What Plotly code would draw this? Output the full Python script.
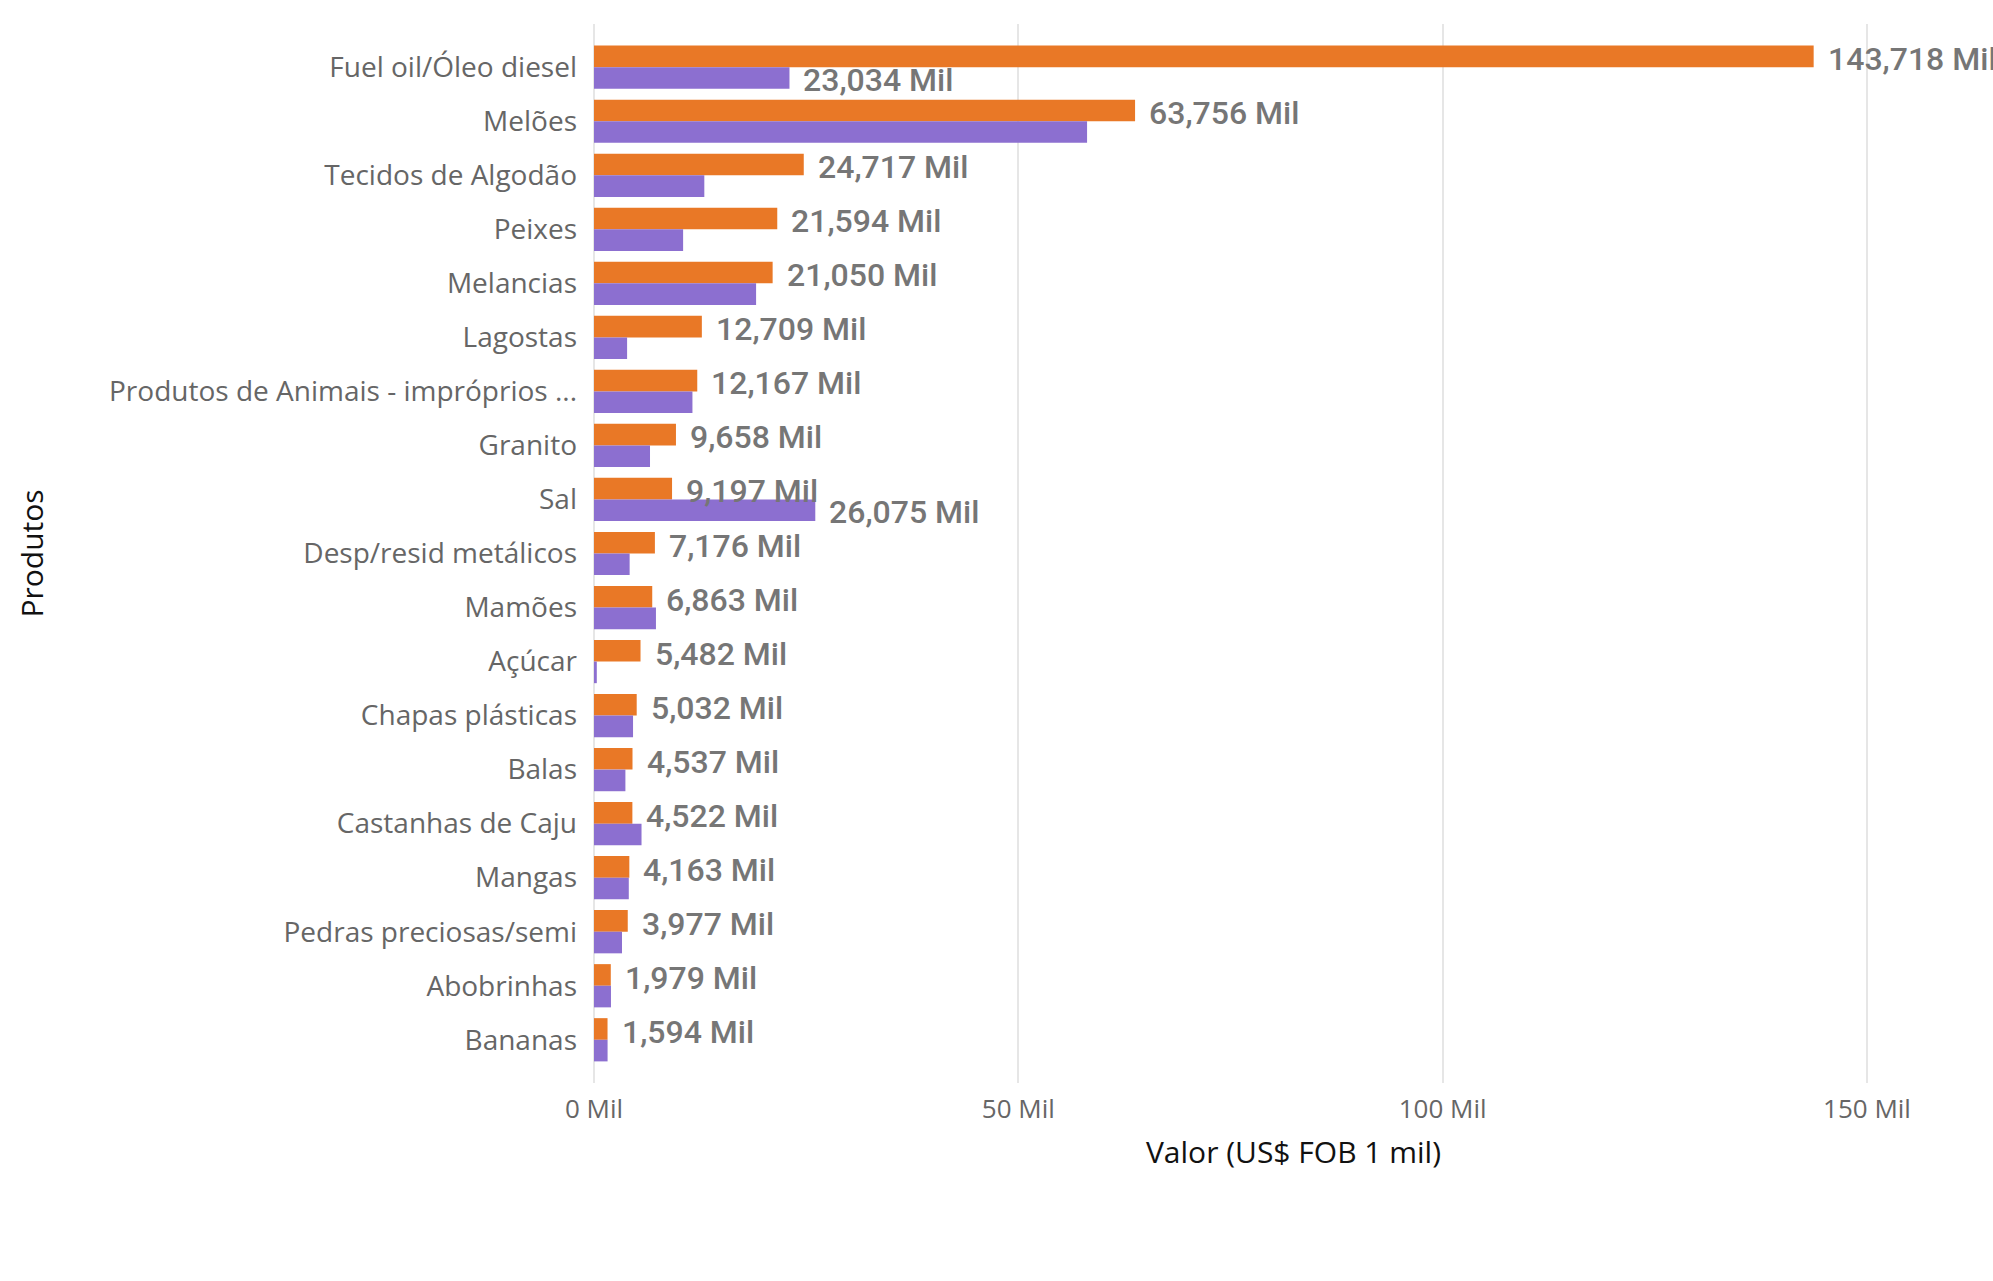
import plotly.graph_objects as go

categories = [
    "Fuel oil/Óleo diesel", "Melões", "Tecidos de Algodão", "Peixes", "Melancias",
    "Lagostas", "Produtos de Animais - impróprios ...", "Granito", "Sal",
    "Desp/resid metálicos", "Mamões", "Açúcar", "Chapas plásticas", "Balas",
    "Castanhas de Caju", "Mangas", "Pedras preciosas/semi", "Abobrinhas", "Bananas",
]
valores_laranja = [143.718, 63.756, 24.717, 21.594, 21.050, 12.709, 12.167, 9.658, 9.197,
                   7.176, 6.863, 5.482, 5.032, 4.537, 4.522, 4.163, 3.977, 1.979, 1.594]
valores_roxo = [23.034, 58.1, 13.0, 10.5, 19.1, 3.9, 11.6, 6.6, 26.075,
                4.2, 7.3, 0.33, 4.6, 3.7, 5.6, 4.1, 3.3, 2.0, 1.6]
roxo_com_rotulo = ["Fuel oil/Óleo diesel", "Sal"]

ORANGE = "#E97826"
PURPLE = "#8C6FD0"
LABEL_GRAY = "#767676"
TICK_GRAY = "#666666"


def fmt(v):
    return f"{v:,.3f}".replace(".", ",") + " Mil"


fig = go.Figure()
fig.add_trace(go.Bar(y=categories, x=valores_laranja, orientation="h",
                     marker=dict(color=ORANGE, line=dict(width=0)),
                     name="Série laranja", showlegend=False))
fig.add_trace(go.Bar(y=categories, x=valores_roxo, orientation="h",
                     marker=dict(color=PURPLE, line=dict(width=0)),
                     name="Série roxa", showlegend=False))

label_font = dict(family="Roboto, DejaVu Sans Condensed, sans-serif", size=32,
                  color=LABEL_GRAY, weight=500)
for c, v in zip(categories, valores_laranja):
    fig.add_annotation(x=v, y=c, text=fmt(v), showarrow=False, xanchor="left",
                       yanchor="middle", xshift=12, yshift=8, font=label_font)
for c, v in zip(categories, valores_roxo):
    if c in roxo_com_rotulo:
        fig.add_annotation(x=v, y=c, text=fmt(v), showarrow=False, xanchor="left",
                           yanchor="middle", xshift=12, yshift=-13, font=label_font)

W, H = 1993, 1281
fig.update_layout(
    width=W, height=H, autosize=False,
    margin=dict(l=594, r=0, t=24, b=198, pad=0),
    paper_bgcolor="white", plot_bgcolor="white",
    barmode="group", bargap=0.2, bargroupgap=0,
    font=dict(family="Open Sans, sans-serif"),
)
fig.update_xaxes(
    range=[0, 164.85], dtick=50, tick0=0, ticksuffix=" Mil",
    showgrid=True, gridcolor="#E6E6E6", gridwidth=1.5,
    zeroline=True, zerolinecolor="#E6E6E6", zerolinewidth=1.5,
    showline=False, ticks="", ticklabelstandoff=8,
    tickfont=dict(family="Open Sans, sans-serif", size=26, color=TICK_GRAY),
    title=dict(text="Valor (US$ FOB 1 mil)", standoff=16,
               font=dict(family="Open Sans, sans-serif", size=30, color="#111111")),
)
fig.update_yaxes(
    type="category", categoryorder="array", categoryarray=categories,
    range=[18.80, -0.80], showgrid=False, zeroline=False, showline=False, ticks="",
    ticklabelstandoff=16,
    tickfont=dict(family="Open Sans, sans-serif", size=28, color=TICK_GRAY),
    title=dict(text="Produtos", standoff=56,
               font=dict(family="Open Sans, sans-serif", size=30, color="#111111")),
)

fig.write_html("out.html", config={"displayModeBar": False},
               post_script="document.body.style.margin='0px';")
